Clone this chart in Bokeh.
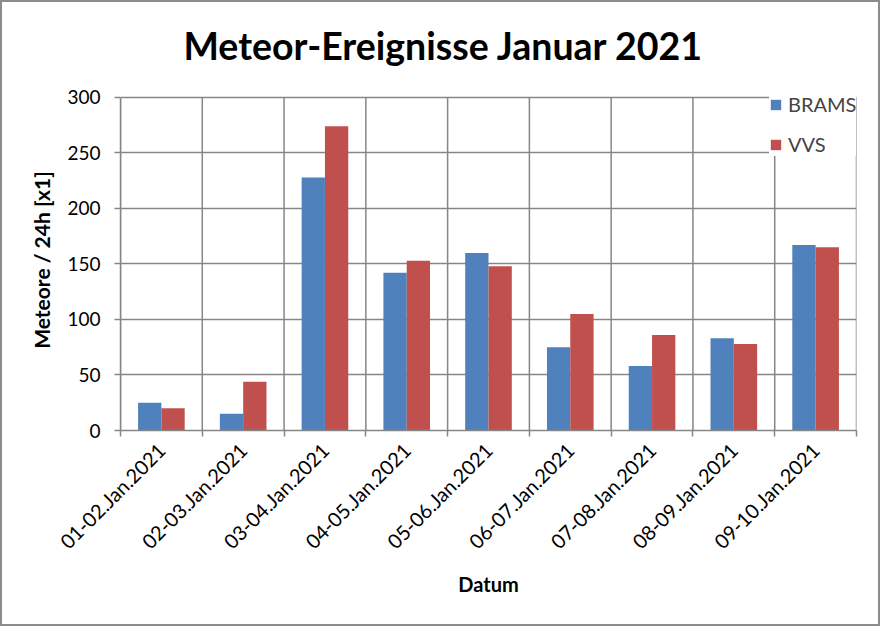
import numpy as np
from bokeh.plotting import figure
from bokeh.models import Range1d, FixedTicker, Legend, LegendItem
from bokeh.embed import file_html
from bokeh.resources import INLINE

categories = ["01-02.Jan.2021", "02-03.Jan.2021", "03-04.Jan.2021",
              "04-05.Jan.2021", "05-06.Jan.2021", "06-07.Jan.2021",
              "07-08.Jan.2021", "08-09.Jan.2021", "09-10.Jan.2021"]
brams = [25, 15, 228, 142, 160, 75, 58, 83, 167]
vvs = [20, 44, 274, 153, 148, 105, 86, 78, 165]
y_ticks = [0, 50, 100, 150, 200, 250, 300]

FONT = "Lato"
GRID = "#868686"
BLUE = "#4F81BD"
RED = "#C0504D"

n = len(categories)
centers = np.arange(n) + 0.5
bounds = list(range(n + 1))
bw = 0.285
ymax = y_ticks[-1]

p = figure(width=880, height=626, output_backend="svg", toolbar_location=None,
           x_range=Range1d(0, n), y_range=Range1d(0, ymax + 7.19),
           min_border_left=118, min_border_right=26,
           min_border_top=86, min_border_bottom=198)
p.styles = {"border": "2px solid #8c8c8c"}
p.outline_line_color = None

p.title.text = "Meteor-Ereignisse Januar 2021"
p.title.text_font = FONT
p.title.text_font_size = "37.5px"
p.title.text_font_style = "bold"
p.title.text_color = "black"
p.title.text_line_height = 0.8
p.title.align = "left"
p.title.vertical_align = "top"
p.title.offset = 63
p.title.standoff = 40

# vertical grid lines at category boundaries (stop at the top tick)
p.segment(x0=bounds, y0=[0] * len(bounds), x1=bounds, y1=[ymax] * len(bounds),
          line_color=GRID, line_width=1.5)

r1 = p.vbar(x=centers - bw / 2, top=brams, width=bw, bottom=0,
            fill_color=BLUE, line_color=None)
r2 = p.vbar(x=centers + bw / 2, top=vvs, width=bw, bottom=0,
            fill_color=RED, line_color=None)

# x axis
xa = p.xaxis[0]
xa.ticker = FixedTicker(ticks=list(centers), minor_ticks=bounds)
xa.major_label_overrides = {float(c): lab for c, lab in zip(centers, categories)}
xa.major_label_orientation = np.pi / 4
xa.major_tick_out = 0
xa.major_tick_in = 0
xa.minor_tick_out = 6
xa.minor_tick_in = 0
xa.minor_tick_line_color = GRID
xa.axis_line_color = GRID
xa.axis_line_width = 1.5
xa.minor_tick_line_width = 1.5
xa.major_label_text_font = FONT
xa.major_label_text_font_size = "20px"
xa.major_label_text_color = "black"
xa.major_label_standoff = 10
xa.axis_label = "Datum"
xa.axis_label_text_font = FONT
xa.axis_label_text_font_size = "20px"
xa.axis_label_text_font_style = "bold"
xa.axis_label_text_color = "black"
xa.axis_label_standoff = 7

# y axis
ya = p.yaxis[0]
ya.ticker = FixedTicker(ticks=y_ticks)
ya.bounds = (0, ymax)
ya.minor_tick_line_color = None
ya.major_tick_out = 6
ya.major_tick_in = 0
ya.major_tick_line_color = GRID
ya.major_tick_line_width = 1.5
ya.axis_line_color = GRID
ya.axis_line_width = 1.5
ya.major_label_text_font = FONT
ya.major_label_text_font_size = "19px"
ya.major_label_text_color = "black"
ya.major_label_standoff = 14
ya.axis_label = "Meteore / 24h [x1]"
ya.axis_label_text_font = FONT
ya.axis_label_text_font_size = "21px"
ya.axis_label_text_font_style = "bold"
ya.axis_label_text_color = "black"
ya.axis_label_standoff = 10

# grids
p.xgrid.visible = False
p.ygrid.ticker = FixedTicker(ticks=y_ticks)
p.ygrid.grid_line_color = GRID
p.ygrid.grid_line_width = 1.5

legend = Legend(items=[LegendItem(label="BRAMS", renderers=[r1]),
                       LegendItem(label="VVS", renderers=[r2])],
                location=(649, 274))
legend.background_fill_color = "white"
legend.background_fill_alpha = 1.0
legend.border_line_color = None
legend.label_text_font = FONT
legend.label_text_font_size = "20px"
legend.glyph_width = 13
legend.glyph_height = 13
legend.spacing = 16
legend.padding = 4
legend.label_standoff = 6
p.add_layout(legend, "center")

open("out.html", "w").write(file_html(p, INLINE))
